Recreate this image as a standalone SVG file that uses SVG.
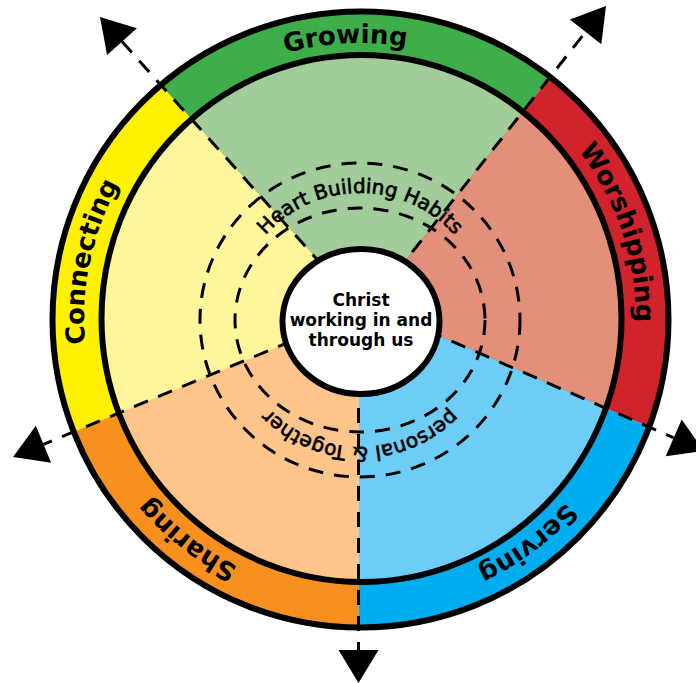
<svg xmlns="http://www.w3.org/2000/svg" width="696" height="683" viewBox="0 0 696 683">
<style>
.band{font-family:"DejaVu Sans",Verdana,sans-serif;font-weight:bold;font-size:26px;fill:#000}
.ring{font-family:"DejaVu Sans",Verdana,sans-serif;font-size:20px;fill:#000;stroke:#000;stroke-width:0.7}
.core{font-family:"DejaVu Sans",Verdana,sans-serif;font-weight:bold;font-size:17px;text-anchor:middle;fill:#000}
.dash{fill:none;stroke:#000;stroke-width:3;stroke-dasharray:15 11}
.edge{fill:none;stroke:#000;stroke-width:6}
</style>
<defs>
<clipPath id="outerClip"><circle cx="360.5" cy="319.5" r="308"/></clipPath>
<clipPath id="innerClip"><ellipse cx="361.5" cy="318.5" rx="260" ry="263.5"/></clipPath>
<marker id="arrow" markerUnits="userSpaceOnUse" markerWidth="34" markerHeight="40" refX="0" refY="20" orient="auto" overflow="visible"><path d="M0,0 L33,20 L0,40 Z" fill="#000"/></marker>
<path id="bandPath" d="M105.9,426.8 A276,276 0 1,1 614.1,211.2 A276,276 0 1,1 105.9,426.8"/>
<path id="ringPath" d="M233,320 A127,127 0 1,1 487,320 A127,127 0 1,1 233,320"/>
</defs>

<g id="growing">
<polygon clip-path="url(#outerClip)" fill="#3dae49" points="360,315 340,285 -140,-251 832,-281 380,293"/>
<polygon clip-path="url(#innerClip)" fill="#a2cd9a" points="360,315 340,285 -140,-251 832,-281 380,293"/>
</g>
<g id="worshipping">
<polygon clip-path="url(#outerClip)" fill="#d0232b" points="360,315 380,293 832,-281 1028,592 380,310"/>
<polygon clip-path="url(#innerClip)" fill="#e3907a" points="360,315 380,293 832,-281 1028,592 380,310"/>
</g>
<g id="serving">
<polygon clip-path="url(#outerClip)" fill="#00aeef" points="360,315 380,310 1028,592 359,1034 359,330"/>
<polygon clip-path="url(#innerClip)" fill="#6dcdf6" points="360,315 380,310 1028,592 359,1034 359,330"/>
</g>
<g id="sharing">
<polygon clip-path="url(#outerClip)" fill="#f7901e" points="360,315 359,330 359,1034 -314,593 340,321"/>
<polygon clip-path="url(#innerClip)" fill="#fdc589" points="360,315 359,330 359,1034 -314,593 340,321"/>
</g>
<g id="connecting">
<polygon clip-path="url(#outerClip)" fill="#fff100" points="360,315 340,321 -314,593 -140,-251 340,285"/>
<polygon clip-path="url(#innerClip)" fill="#fff59b" points="360,315 340,321 -314,593 -140,-251 340,285"/>
</g>

<g id="rings">
<circle class="edge" cx="360.5" cy="319.5" r="308"/>
<ellipse class="edge" cx="361.5" cy="318.5" rx="260" ry="263.5"/>
<ellipse class="dash" cx="360" cy="320" rx="160" ry="157"/>
<ellipse class="dash" cx="360" cy="320" rx="125" ry="112"/>
</g>

<g id="connectors">
<line class="dash" x1="340" y1="285" x2="122" y2="41.6" marker-end="url(#arrow)"/>
<line class="dash" x1="380" y1="293" x2="585.6" y2="31.9" marker-end="url(#arrow)"/>
<line class="dash" x1="380" y1="310" x2="673.7" y2="437.8" marker-end="url(#arrow)"/>
<line class="dash" x1="358.5" y1="330" x2="358.5" y2="650" marker-end="url(#arrow)"/>
<line class="dash" x1="340" y1="321" x2="43.5" y2="444.3" marker-end="url(#arrow)"/>
</g>

<g id="band-labels">
<text class="band" text-anchor="middle"><textPath href="#bandPath" startOffset="9.72%">Connecting</textPath></text>
<text class="band" text-anchor="middle"><textPath href="#bandPath" startOffset="30.56%">Growing</textPath></text>
<text class="band" text-anchor="middle"><textPath href="#bandPath" startOffset="51.25%">Worshipping</textPath></text>
<text class="band" text-anchor="middle"><textPath href="#bandPath" startOffset="71.17%">Serving</textPath></text>
<text class="band" text-anchor="middle"><textPath href="#bandPath" startOffset="91.94%">Sharing</textPath></text>
</g>

<g id="ring-labels">
<text class="ring" text-anchor="middle"><textPath href="#ringPath" startOffset="25%">Heart Building Habits</textPath></text>
<text class="ring" text-anchor="middle"><textPath href="#ringPath" startOffset="75%">personal &amp; Together</textPath></text>
</g>

<g id="center">
<ellipse cx="361" cy="321.5" rx="78.5" ry="72.5" fill="#fff" stroke="#000" stroke-width="6"/>
<text class="core" x="361" y="305.7">Christ</text>
<text class="core" x="361" y="325.7">working in and</text>
<text class="core" x="361" y="345.7">through us</text>
</g>
</svg>
